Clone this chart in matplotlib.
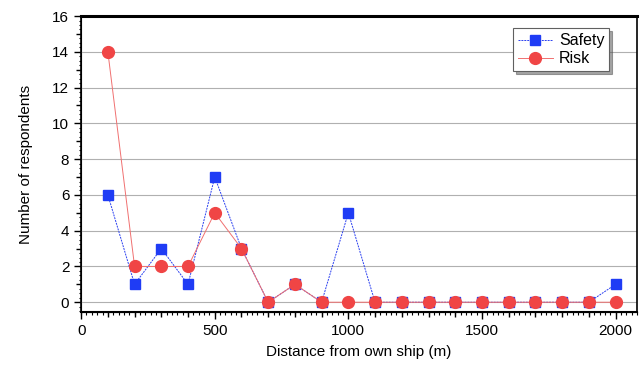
import matplotlib.pyplot as plt
from matplotlib.ticker import MultipleLocator, NullFormatter

# data
distance = [100, 200, 300, 400, 500, 600, 700, 800, 900, 1000,
            1100, 1200, 1300, 1400, 1500, 1600, 1700, 1800, 1900, 2000]
safety = [6, 1, 3, 1, 7, 3, 0, 1, 0, 5, 0, 0, 0, 0, 0, 0, 0, 0, 0, 1]
risk = [14, 2, 2, 2, 5, 3, 0, 1, 0, 0, 0, 0, 0, 0, 0, 0, 0, 0, 0, 0]

plt.rcParams['font.family'] = ['Liberation Sans', 'DejaVu Sans']

fig = plt.figure(figsize=(6.44, 3.65), dpi=100)
ax = fig.add_axes([0.126, 0.145, 0.863, 0.811])

ax.plot(distance, safety, color='#2a3ff0', lw=0.7, ls=(0, (2, 1)), marker='s',
        markersize=7, markerfacecolor='#1f3cf5', markeredgecolor='#1f3cf5',
        label='Safety', zorder=3)
ax.plot(distance, risk, color='#f07070', lw=0.7, marker='o', markersize=8.5,
        markerfacecolor='#f04545', markeredgecolor='#f04545', label='Risk', zorder=4)

ax.set_xlim(0, 2080)
ax.set_ylim(-0.55, 16)
ax.xaxis.set_major_locator(MultipleLocator(500))
ax.xaxis.set_minor_locator(MultipleLocator(100))
ax.yaxis.set_major_locator(MultipleLocator(2))
ax.yaxis.set_minor_locator(MultipleLocator(1))
ax.tick_params(axis='both', which='major', direction='out', length=5, width=1,
               labelsize=11, colors='black')
ax.tick_params(axis='both', which='minor', direction='out', length=3.5, width=1)

# fine ticks along the bottom and left spines
fine_x = ax.secondary_xaxis('bottom')
fine_x.xaxis.set_major_locator(MultipleLocator(20))
fine_x.xaxis.set_major_formatter(NullFormatter())
fine_x.tick_params(length=1.8, width=0.8, direction='out')
fine_y = ax.secondary_yaxis('left')
fine_y.yaxis.set_major_locator(MultipleLocator(0.25))
fine_y.yaxis.set_major_formatter(NullFormatter())
fine_y.tick_params(length=1.8, width=0.8, direction='out')

ax.grid(axis='y', which='major', color='#b0b0b0', lw=0.8)
ax.set_axisbelow(True)

ax.spines['top'].set_linewidth(2.2)
ax.spines['bottom'].set_linewidth(1.5)
ax.spines['left'].set_linewidth(1.2)
ax.spines['right'].set_linewidth(1.2)
ax.spines['right'].set_linestyle((0, (1, 1)))

ax.set_xlabel('Distance from own ship (m)', fontsize=11, labelpad=5)
ax.set_ylabel('Number of respondents', fontsize=11, labelpad=14)

leg = ax.legend(loc='upper right', bbox_to_anchor=(0.965, 0.985), fontsize=11.5,
                shadow=True, fancybox=False, framealpha=1, edgecolor='#606060',
                handlelength=2.2, borderpad=0.3, labelspacing=0.2,
                handletextpad=0.4)
leg.get_frame().set_linewidth(0.8)

fig.savefig('out.png', dpi=100)
